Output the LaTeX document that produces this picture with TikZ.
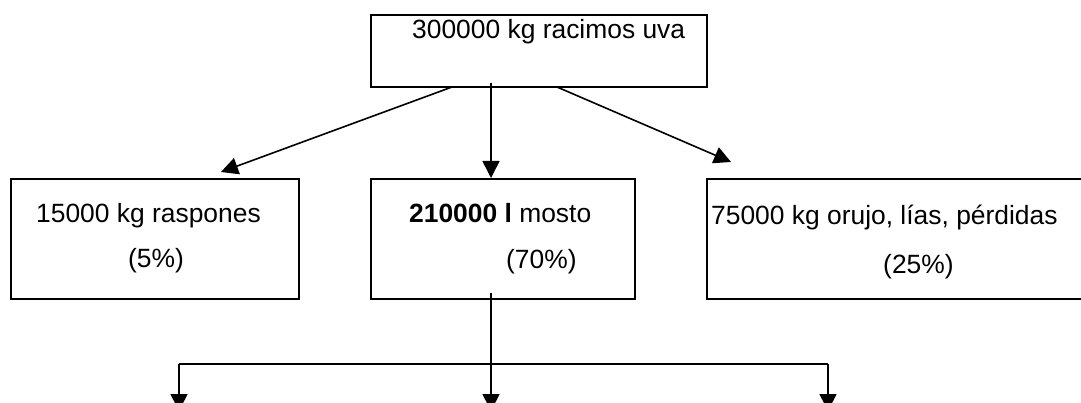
\documentclass[tikz,border=0pt]{standalone}
\usepackage{fontspec}
\setmainfont{Liberation Sans}
\usetikzlibrary{arrows.meta,calc}
\begin{document}
\begin{tikzpicture}[x=1pt,y=-1pt,
  box/.style={draw,line width=1.7pt,rectangle,inner sep=0pt},
  lbl/.style={anchor=base west,inner sep=0pt,font=\fontsize{26.4}{30}\selectfont},
  flow/.style={line width=1.6pt,-{Triangle[width=17pt,length=17pt]}},
  plain/.style={line width=1.6pt}]
\useasboundingbox (0,0) rectangle (1081,403);
\clip (0,0) rectangle (1081,403);
\fill[white] (0,0) rectangle (1081,403);

% boxes
\node[box,minimum width=336pt,minimum height=72pt]  (uva)     at (539,51)    {};
\node[box,minimum width=288pt,minimum height=120pt] (raspon)  at (155,239)   {};
\node[box,minimum width=264pt,minimum height=120pt] (mosto)   at (503,239)   {};
\node[box,minimum width=393pt,minimum height=120pt] (orujo)   at (903.5,239) {};

% labels
\node[lbl] (tuva)  at (412,39)  {300000 kg racimos uva};
\node[lbl] (tras)  at (36,223)  {15000 kg raspones};
\node[lbl] (pras)  at (128,268) {(5\%)};
\node[lbl] (tmos)  at (409,223) {\textbf{210000 l} mosto};
\node[lbl] (pmos)  at (506,269) {(70\%)};
\node[lbl] (toru)  at (711,225) {75000 kg orujo, lías, pérdidas};
\node[lbl] (poru)  at (883,273) {(25\%)};

% connection points
\coordinate (uvaL) at (452,87);
\coordinate (uvaM) at (491,83);
\coordinate (uvaR) at (557,87);
\coordinate (rasT) at (221,172);
\coordinate (mosT) at (491,178);
\coordinate (oruT) at (731,162);
\coordinate (mosB) at (491,293);
\coordinate (splitL) at (179,364);
\coordinate (splitR) at (828,364);
\coordinate (outL) at (179,411);
\coordinate (outM) at (491,411);
\coordinate (outR) at (828,411);

% first split
\draw[flow] (uvaL) -- (rasT);
\draw[flow] (uvaM) -- (mosT);
\draw[flow] (uvaR) -- (oruT);

% second split
\draw[flow] (mosB) -- (outM);
\draw[plain] (splitL) -- (splitR);
\draw[flow] (splitL) -- (outL);
\draw[flow] (splitR) -- (outR);
\end{tikzpicture}
\end{document}
